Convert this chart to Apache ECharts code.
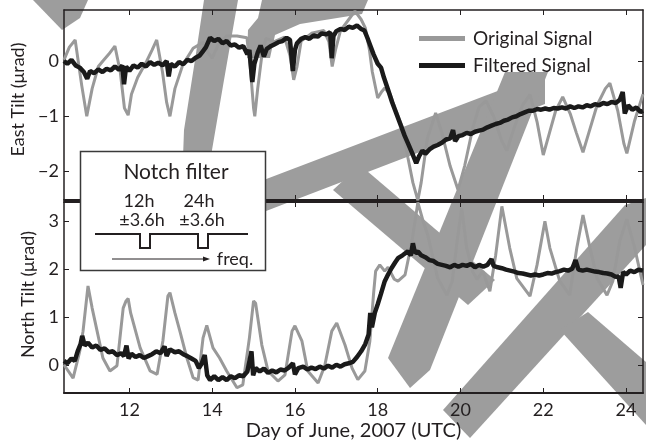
<!DOCTYPE html>
<html>
<head>
<meta charset="utf-8">
<script src="https://cdn.jsdelivr.net/npm/echarts@6/dist/echarts.min.js"></script>
<style>
html,body{margin:0;padding:0;background:#fff;}
#c{width:646px;height:444px;}
</style>
</head>
<body>
<div id="c"></div>
<script>
// ---- Data ----
const dayTicks = [12, 14, 16, 18, 20, 22, 24];
const eastTicks = [-2, -1, 0];
const northTicks = [0, 1, 2, 3];

const eastOrigDays = [10.42,10.55,10.69,10.85,10.97,11.1,11.25,11.36,11.5,11.65,11.78,11.88,11.97,12.05,12.2,12.42,12.55,12.66,12.8,12.9,12.98,13.1,13.29,13.54,13.78,13.9,14.0,14.15,14.35,14.6,14.84,14.92,15.0,15.03,15.1,15.2,15.3,15.5,15.75,15.88,15.97,16.05,16.15,16.4,16.7,16.82,16.9,16.98,17.1,17.3,17.45,17.6,17.7,17.8,17.87,18.0,18.1,18.17,18.3,18.42,18.6,18.73,18.85,18.97,19.05,19.2,19.4,19.55,19.75,19.94,20.1,20.3,20.45,20.62,20.8,21.0,21.12,21.3,21.5,21.68,21.85,22.0,22.15,22.3,22.47,22.65,22.8,22.96,23.1,23.3,23.5,23.61,23.8,23.95,24.02,24.2,24.41];
const eastOrigVals = [0.02,0.25,0.38,-0.45,-1.0,-0.5,-0.1,0.0,0.12,0.27,-0.2,-0.85,-0.98,-0.6,-0.3,0.0,0.2,0.38,-0.2,-0.75,-1.0,-0.5,-0.07,0.23,0.34,0.15,0.05,0.3,0.45,0.45,0.42,-0.1,-0.85,-1.0,-0.5,0.1,0.41,0.35,0.43,0.1,-0.34,-0.1,0.36,0.5,0.55,0.35,-0.1,0.2,0.55,0.75,0.9,0.75,0.6,0.2,-0.2,-0.67,-0.55,-0.49,-0.6,-0.85,-1.21,-1.75,-2.2,-2.52,-2.2,-1.4,-0.94,-1.3,-1.9,-2.33,-1.9,-1.2,-0.83,-0.72,-1.0,-1.45,-1.62,-1.2,-0.8,-0.61,-1.1,-1.7,-1.3,-0.9,-0.65,-0.95,-1.3,-1.65,-1.3,-0.8,-0.5,-0.4,-0.9,-1.5,-1.67,-1.1,-0.6];

const eastFiltDays = [10.42,10.5,10.6,10.7,10.8,10.9,10.98,11.05,11.15,11.25,11.35,11.45,11.55,11.65,11.75,11.83,11.87,11.92,12.0,12.1,12.2,12.3,12.4,12.5,12.6,12.7,12.8,12.9,12.95,13.0,13.1,13.2,13.3,13.4,13.5,13.6,13.7,13.78,13.85,13.95,14.05,14.15,14.25,14.35,14.45,14.55,14.65,14.75,14.85,14.9,14.97,15.02,15.1,15.17,15.25,15.32,15.4,15.5,15.6,15.7,15.8,15.88,15.95,16.0,16.05,16.15,16.25,16.35,16.45,16.55,16.65,16.75,16.85,16.89,16.93,17.0,17.1,17.2,17.3,17.4,17.5,17.6,17.68,17.75,17.82,17.9,18.0,18.08,18.15,18.25,18.35,18.45,18.55,18.65,18.75,18.85,18.93,19.0,19.08,19.15,19.25,19.35,19.45,19.55,19.65,19.75,19.82,19.87,19.95,20.05,20.15,20.25,20.35,20.45,20.55,20.65,20.75,20.85,20.95,21.05,21.15,21.25,21.35,21.45,21.55,21.65,21.75,21.85,21.95,22.05,22.15,22.25,22.35,22.45,22.55,22.65,22.75,22.85,22.95,23.05,23.15,23.25,23.35,23.45,23.55,23.65,23.75,23.85,23.92,23.97,24.05,24.15,24.25,24.35,24.41];
const eastFiltVals = [0.0,-0.05,0.02,-0.08,-0.12,-0.2,-0.32,-0.18,-0.22,-0.15,-0.2,-0.14,-0.17,-0.1,-0.16,-0.08,-0.42,-0.1,-0.18,-0.08,-0.12,-0.05,-0.1,-0.02,-0.07,-0.03,-0.08,0.0,-0.28,-0.05,-0.1,-0.02,-0.06,0.02,0.0,0.06,0.1,0.18,0.25,0.42,0.36,0.4,0.32,0.36,0.28,0.3,0.24,0.27,0.12,0.2,-0.38,-0.05,0.15,0.28,0.08,0.22,0.26,0.3,0.34,0.36,0.42,0.38,-0.18,0.2,0.32,0.4,0.43,0.4,0.46,0.44,0.5,0.48,0.52,0.05,0.45,0.54,0.58,0.56,0.62,0.6,0.64,0.58,0.55,0.42,0.28,0.12,-0.05,-0.12,-0.3,-0.52,-0.75,-0.95,-1.15,-1.35,-1.52,-1.7,-1.85,-1.72,-1.62,-1.68,-1.6,-1.55,-1.52,-1.48,-1.42,-1.4,-1.25,-1.45,-1.36,-1.34,-1.3,-1.32,-1.28,-1.26,-1.24,-1.2,-1.17,-1.14,-1.12,-1.08,-1.06,-1.02,-1.0,-0.96,-0.93,-0.9,-0.9,-0.87,-0.88,-0.86,-0.88,-0.85,-0.86,-0.84,-0.86,-0.82,-0.85,-0.82,-0.84,-0.8,-0.82,-0.78,-0.8,-0.76,-0.78,-0.74,-0.76,-0.7,-0.56,-0.95,-0.8,-0.88,-0.84,-0.92,-0.9];

const northOrigDays = [10.42,10.64,10.8,10.88,11.0,11.1,11.22,11.36,11.53,11.7,11.85,11.92,11.97,12.03,12.26,12.5,12.67,12.81,12.93,12.98,13.1,13.22,13.39,13.54,13.66,13.78,13.87,14.02,14.18,14.35,14.6,14.74,14.9,15.0,15.05,15.2,15.35,15.59,15.76,15.93,16.0,16.17,16.31,16.56,16.72,16.89,17.01,17.21,17.38,17.52,17.69,17.81,17.9,17.95,18.05,18.17,18.25,18.4,18.49,18.66,18.83,18.97,19.1,19.21,19.45,19.67,19.8,19.92,20.03,20.15,20.3,20.4,20.54,20.71,20.85,21.0,21.19,21.36,21.68,21.85,22.04,22.16,22.4,22.64,22.81,22.96,23.13,23.3,23.54,23.68,23.85,24.02,24.21,24.41];
const northOrigVals = [0.02,-0.26,0.3,0.72,1.66,1.2,0.72,0.16,-0.11,0.0,1.2,1.35,1.4,1.1,0.37,-0.11,-0.18,0.52,1.45,1.52,1.1,0.72,0.16,-0.25,-0.3,0.58,0.84,0.37,0.16,-0.11,-0.46,-0.4,0.58,1.35,1.3,0.43,-0.11,-0.32,-0.19,0.72,0.83,0.51,-0.11,-0.36,0.0,0.72,0.89,0.43,-0.05,-0.29,-0.11,0.51,1.5,1.97,2.1,1.97,2.05,1.8,1.76,1.89,2.6,3.4,3.0,2.72,1.82,1.47,1.76,2.6,3.28,2.45,1.95,1.8,1.97,1.55,2.3,3.32,2.45,1.82,1.45,2.1,3.01,2.45,1.76,1.47,2.45,3.14,2.45,1.82,1.47,1.76,2.6,3.05,2.45,1.68];

const northFiltDays = [10.42,10.5,10.6,10.68,10.75,10.82,10.86,10.92,11.0,11.1,11.2,11.3,11.4,11.5,11.6,11.7,11.8,11.87,11.93,11.98,12.05,12.15,12.25,12.35,12.45,12.55,12.65,12.75,12.85,12.9,12.98,13.1,13.2,13.3,13.4,13.5,13.6,13.68,13.75,13.82,13.88,13.95,14.05,14.15,14.25,14.35,14.45,14.55,14.65,14.75,14.85,14.95,14.99,15.05,15.15,15.25,15.35,15.45,15.55,15.65,15.75,15.85,15.95,16.0,16.08,16.2,16.3,16.4,16.5,16.6,16.7,16.8,16.9,17.0,17.1,17.2,17.3,17.4,17.5,17.6,17.7,17.78,17.82,17.86,17.93,18.0,18.08,18.17,18.25,18.34,18.42,18.49,18.6,18.73,18.8,18.85,18.9,18.97,19.05,19.15,19.25,19.35,19.45,19.55,19.65,19.75,19.85,19.95,20.05,20.15,20.25,20.35,20.45,20.55,20.65,20.75,20.8,20.9,21.0,21.1,21.2,21.3,21.4,21.5,21.6,21.7,21.8,21.9,22.0,22.1,22.2,22.3,22.4,22.5,22.6,22.7,22.78,22.85,22.95,23.05,23.15,23.25,23.35,23.45,23.55,23.65,23.75,23.82,23.87,23.93,24.0,24.1,24.2,24.3,24.41];
const northFiltVals = [0.1,0.05,0.15,0.1,0.3,0.45,0.62,0.42,0.48,0.38,0.42,0.33,0.36,0.28,0.3,0.22,0.26,0.2,0.42,0.15,0.25,0.18,0.22,0.16,0.2,0.24,0.3,0.26,0.4,0.2,0.34,0.28,0.3,0.24,0.2,0.15,0.1,-0.05,0.05,0.22,-0.2,-0.3,-0.22,-0.3,-0.24,-0.3,-0.22,-0.26,-0.2,-0.22,-0.12,0.3,-0.2,-0.05,-0.12,-0.06,-0.15,-0.1,-0.14,-0.08,-0.1,-0.04,0.05,-0.18,-0.05,-0.02,-0.08,-0.04,-0.07,-0.02,-0.06,0.0,-0.04,0.02,-0.02,0.03,0.05,0.08,0.18,0.3,0.45,0.65,1.1,0.8,1.1,1.28,1.5,1.76,1.9,2.04,2.15,2.24,2.3,2.38,2.3,2.55,2.35,2.38,2.3,2.26,2.2,2.18,2.12,2.1,2.08,2.05,2.1,2.06,2.1,2.08,2.12,2.05,2.1,2.06,2.1,2.22,2.08,2.05,2.03,2.0,1.98,1.96,1.93,1.92,1.9,1.88,1.9,1.88,1.9,1.93,1.92,1.95,1.97,2.0,1.98,2.02,2.2,2.0,1.98,2.0,1.98,1.96,1.95,1.93,1.92,1.9,1.85,1.86,1.62,1.95,1.9,1.98,1.95,2.0,1.98];

function pairs(xs, ys) { return xs.map((x, i) => [x, ys[i]]); }

// ---- Styling ----
const INK = '#231f20';
const GRAY = '#999999';
const WM = '#9d9d9d';
const FONT = 'Lato';
const X_MIN = 10.42, X_MAX = 24.41;

const minus = v => String(v).replace('-', '\u2212');

function xAx(grid, pos, showLabels, lw) {
  const ax = {
    type: 'value', gridIndex: grid, position: pos, min: X_MIN, max: X_MAX,
    splitLine: { show: false },
    axisLine: { show: true, onZero: false, lineStyle: { color: INK, width: lw } },
    axisTick: { show: true, inside: true, length: 5, customValues: dayTicks, lineStyle: { color: INK, width: 1 } },
    axisLabel: { show: showLabels, customValues: dayTicks, margin: 8, color: INK, fontFamily: FONT, fontSize: 18 }
  };
  if (showLabels) {
    ax.name = 'Day of June, 2007 (UTC)';
    ax.nameLocation = 'middle';
    ax.nameGap = 28;
    ax.nameTextStyle = { color: INK, fontFamily: FONT, fontSize: 20 };
  }
  return ax;
}
function yAx(grid, pos, mn, mx, ticks, showLabels, name, gap, pad) {
  const ax = {
    type: 'value', gridIndex: grid, position: pos, min: mn, max: mx,
    splitLine: { show: false },
    axisLine: { show: true, onZero: false, lineStyle: { color: INK, width: 1.5 } },
    axisTick: { show: true, inside: true, length: 5, customValues: ticks, lineStyle: { color: INK, width: 1 } },
    axisLabel: { show: showLabels, customValues: ticks, margin: 5, color: INK, fontFamily: FONT, fontSize: 18, formatter: minus }
  };
  if (name) {
    ax.name = name; ax.nameLocation = 'middle'; ax.nameRotate = 90; ax.nameGap = gap;
    ax.nameTextStyle = { color: INK, fontFamily: FONT, fontSize: 18, padding: pad };
  }
  return ax;
}

function poly(points) {
  return { type: 'polygon', z: -10, silent: true, shape: { points: points }, style: { fill: WM } };
}

const chart = echarts.init(document.getElementById('c'), null, { renderer: 'canvas' });
chart.setOption({
  animation: false,
  backgroundColor: '#ffffff',
  grid: [
    { left: 64, top: 10, width: 579, height: 190 },
    { left: 64, top: 202, width: 579, height: 191 }
  ],
  xAxis: [
    xAx(0, 'bottom', false, 2),
    xAx(0, 'top', false, 1.5),
    xAx(1, 'bottom', true, 2),
    xAx(1, 'top', false, 2)
  ],
  yAxis: [
    yAx(0, 'left', -2.514, 0.922, eastTicks, true, 'East Tilt (\u03bcrad)', 34, [0, 0, 0, 11]),
    yAx(0, 'right', -2.514, 0.922, eastTicks, false),
    yAx(1, 'left', -0.569, 3.41, northTicks, true, 'North Tilt (\u03bcrad)', 25, [0, 0, 0, 6]),
    yAx(1, 'right', -0.569, 3.41, northTicks, false)
  ],
  legend: {
    orient: 'vertical', left: 414, top: 24, itemWidth: 46, itemHeight: 5, itemGap: 8,
    icon: 'rect', selectedMode: false,
    textStyle: { color: INK, fontFamily: FONT, fontSize: 19, padding: [0, 0, 0, 3] },
    data: ['Original Signal', 'Filtered Signal']
  },
  series: [
    { name: 'Original Signal', type: 'line', xAxisIndex: 0, yAxisIndex: 0, data: pairs(eastOrigDays, eastOrigVals),
      showSymbol: false, color: GRAY, lineStyle: { color: GRAY, width: 3 }, z: 3 },
    { name: 'Filtered Signal', type: 'line', xAxisIndex: 0, yAxisIndex: 0, data: pairs(eastFiltDays, eastFiltVals),
      showSymbol: false, color: '#1a1a1a', lineStyle: { color: '#1a1a1a', width: 4.5 }, z: 4 },
    { name: 'Original Signal', type: 'line', xAxisIndex: 2, yAxisIndex: 2, data: pairs(northOrigDays, northOrigVals),
      showSymbol: false, color: GRAY, lineStyle: { color: GRAY, width: 3 }, z: 3 },
    { name: 'Filtered Signal', type: 'line', xAxisIndex: 2, yAxisIndex: 2, data: pairs(northFiltDays, northFiltVals),
      showSymbol: false, color: '#1a1a1a', lineStyle: { color: '#1a1a1a', width: 4.5 }, z: 4 }
  ],
  graphic: [
    // watermark strokes (background)
    poly([[33,0],[88,0],[80,18],[62,30]]),
    poly([[204,0],[238,0],[224,80],[212,150],[210,240],[180,240],[184,130],[195,60]]),
    poly([[262,0],[368,0],[362,14],[300,24],[275,35],[270,58],[247,58],[248,30],[258,18]]),
    poly([[240,189],[545,73],[545,104],[240,221]]),
    poly([[548,72],[430,370],[410,388],[388,358],[505,72]]),
    poly([[333,190],[360,165],[495,280],[468,305]]),
    poly([[625,205],[646,198],[646,245],[470,438],[443,410]]),
    poly([[560,330],[588,312],[646,362],[646,425]]),
    // inset
    { type: 'group', z: 100, children: [
      { type: 'rect', z: 100, shape: { x: 80.5, y: 151.5, width: 185, height: 119 },
        style: { fill: '#ffffff', stroke: '#3a3a3a', lineWidth: 1.5 } },
      { type: 'text', z: 101, x: 176, y: 172, style: { text: 'Notch filter', fill: INK, font: '21px Lato', align: 'center', verticalAlign: 'middle' } },
      { type: 'text', z: 101, x: 139, y: 201, style: { text: '12h', fill: INK, font: '18px Lato', align: 'center', verticalAlign: 'middle' } },
      { type: 'text', z: 101, x: 199, y: 201, style: { text: '24h', fill: INK, font: '18px Lato', align: 'center', verticalAlign: 'middle' } },
      { type: 'text', z: 101, x: 142, y: 220, style: { text: '\u00b13.6h', fill: INK, font: '18px Lato', align: 'center', verticalAlign: 'middle' } },
      { type: 'text', z: 101, x: 202, y: 220, style: { text: '\u00b13.6h', fill: INK, font: '18px Lato', align: 'center', verticalAlign: 'middle' } },
      { type: 'polyline', z: 101, shape: { points: [[95,234],[140,234],[140,248],[150,248],[150,234],[198,234],[198,248],[208,248],[208,234],[248,234]] },
        style: { stroke: INK, lineWidth: 2, fill: null } },
      { type: 'line', z: 101, shape: { x1: 112, y1: 259, x2: 206, y2: 259 }, style: { stroke: INK, lineWidth: 1 } },
      { type: 'polygon', z: 101, shape: { points: [[203,256.5],[210,259],[203,261.5]] }, style: { fill: INK } },
      { type: 'text', z: 101, x: 235, y: 259, style: { text: 'freq.', fill: INK, font: '18px Lato', align: 'center', verticalAlign: 'middle' } }
    ]}
  ]
});
</script>
</body>
</html>
